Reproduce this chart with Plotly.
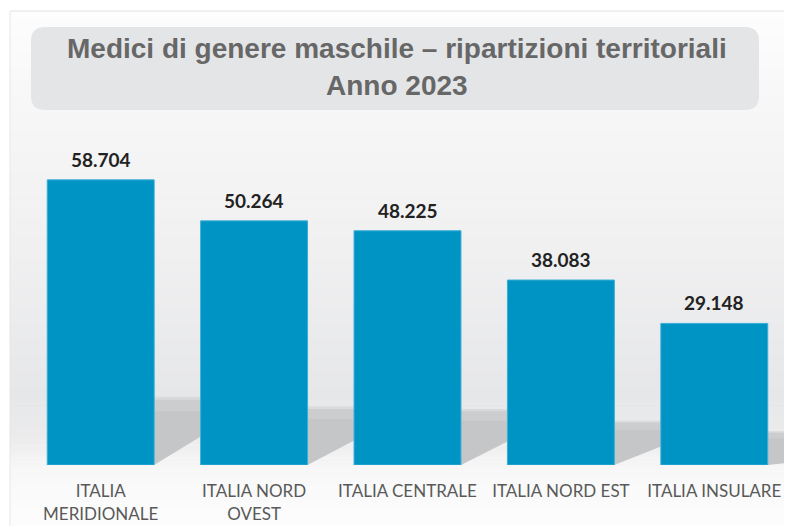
import plotly.graph_objects as go

categories = ["ITALIA<br>MERIDIONALE", "ITALIA NORD<br>OVEST", "ITALIA CENTRALE", "ITALIA NORD EST", "ITALIA INSULARE"]
values = [58.704, 50.264, 48.225, 38.083, 29.148]
value_labels = ["58.704", "50.264", "48.225", "38.083", "29.148"]
title_line1 = "Medici di genere maschile – ripartizioni territoriali"
title_line2 = "Anno 2023"

# the page places the figure 8px from the top-left corner
OFF = 8
W, H = 792 - OFF, 526 - OFF
ML, MR, MT, MB = 16, 1, 117, 61
PW, PH = W - ML - MR, H - MT - MB


def px_x(x):  # x in window pixels
    return (x - OFF - ML) / PW


def px_y(y):  # y in window pixels
    return (H - MB - (y - OFF)) / PH


def lerp_color(c1, c2, t):
    return "rgb(%d,%d,%d)" % tuple(round(a + (b - a) * t) for a, b in zip(c1, c2))


shapes = []
stops = [(11, (253, 253, 253)), (120, (246, 246, 247)), (250, (240, 240, 241)),
         (395, (230, 231, 233)), (440, (236, 236, 237)), (470, (248, 248, 248)), (530, (253, 253, 253))]
for k in range(len(stops) - 1):
    y0, c0 = stops[k]
    y1, c1 = stops[k + 1]
    n = max(1, (y1 - y0) // 4)
    for j in range(n):
        ya = y0 + (y1 - y0) * j / n
        yb = y0 + (y1 - y0) * (j + 1) / n
        shapes.append(dict(type="rect", xref="paper", yref="paper", layer="below",
                           x0=px_x(10), x1=px_x(800), y0=px_y(yb + 0.5), y1=px_y(ya),
                           fillcolor=lerp_color(c0, c1, (j + 0.5) / n), line=dict(width=0)))
shapes.append(dict(type="line", xref="paper", yref="paper", layer="below",
                   x0=px_x(10), x1=px_x(800), y0=px_y(11), y1=px_y(11),
                   line=dict(color="#e2e2e2", width=1)))
shapes.append(dict(type="line", xref="paper", yref="paper", layer="below",
                   x0=px_x(10), x1=px_x(10), y0=px_y(11), y1=px_y(540),
                   line=dict(color="#e6e6e6", width=1)))

bx0, bx1, by0, by1, r = 31, 759, 27, 110, 14
path = (f"M {bx0 + r},{by0} L {bx1 - r},{by0} Q {bx1},{by0} {bx1},{by0 + r} "
        f"L {bx1},{by1 - r} Q {bx1},{by1} {bx1 - r},{by1} L {bx0 + r},{by1} "
        f"Q {bx0},{by1} {bx0},{by1 - r} L {bx0},{by0 + r} Q {bx0},{by0} {bx0 + r},{by0} Z")


def conv_path(p):
    out = []
    for tok in p.split(" "):
        if "," in tok:
            a, b = tok.split(",")
            out.append(f"{px_x(float(a)):.5f},{px_y(float(b)):.5f}")
        else:
            out.append(tok)
    return " ".join(out)


shapes.append(dict(type="path", xref="paper", yref="paper", layer="below",
                   path=conv_path(path), fillcolor="#e4e5e7", line=dict(width=0)))

# bar shadows derived from the data
half = 0.5 * (1 - 0.303)
for i, v in enumerate(values):
    xr = i + half
    xe = i + 1 - half if i < len(values) - 1 else i + 1.2
    top = 0.23 * v
    low = 0.10 * v
    shapes.append(dict(type="path", xref="x", yref="y", layer="below",
                       path=f"M {xr},0 L {xr},{top} L {xe},{top} L {xe},{low} Z",
                       fillcolor="#c5c6c8", line=dict(width=0)))
    shapes.append(dict(type="path", xref="x", yref="y", layer="below",
                       path=f"M {xr},{top} L {xe},{top} L {xe},{top * 0.82} L {xr},{top * 0.82} Z",
                       fillcolor="#cccdce", line=dict(width=0)))
    shapes.append(dict(type="path", xref="x", yref="y", layer="below",
                       path=f"M {xr},{top * 1.04} L {xe},{top * 1.04} L {xe},{top} L {xr},{top} Z",
                       fillcolor="#d9dadb", line=dict(width=0)))

fig = go.Figure()
fig.add_trace(go.Bar(
    x=list(range(len(values))), y=values,
    marker=dict(color="#0094c5", line=dict(color="#3aaed6", width=1)),
    hoverinfo="skip",
))

annotations = []
for i, (v, lab) in enumerate(zip(values, value_labels)):
    annotations.append(dict(x=i, y=v, xref="x", yref="y", text=lab, showarrow=False,
                            yanchor="bottom", yshift=7,
                            font=dict(family="Lato", size=19, color="#222222", weight="bold")))
title_font = dict(family="Liberation Sans", size=28, color="#676767", weight="bold")
annotations.append(dict(x=px_x(397), y=px_y(49), xref="paper", yref="paper", text=title_line1,
                        showarrow=False, xanchor="center", yanchor="middle", font=title_font))
annotations.append(dict(x=px_x(397), y=px_y(85), xref="paper", yref="paper", text=title_line2,
                        showarrow=False, xanchor="center", yanchor="middle", font=title_font))

fig.update_layout(
    width=W, height=H,
    margin=dict(l=ML, r=MR, t=MT, b=MB),
    paper_bgcolor="white", plot_bgcolor="rgba(0,0,0,0)",
    bargap=0.303, showlegend=False,
    shapes=shapes, annotations=annotations,
    xaxis=dict(range=[-0.5, len(values) - 0.5], tickmode="array",
               tickvals=list(range(len(values))), ticktext=categories,
               ticks="outside", ticklen=11, tickcolor="rgba(0,0,0,0)",
               showgrid=False, zeroline=False, showline=False,
               tickfont=dict(family="Lato", size=17, color="#595959")),
    yaxis=dict(range=[0, 70], visible=False, showgrid=False, zeroline=False),
)

fig.write_html("out.html")
